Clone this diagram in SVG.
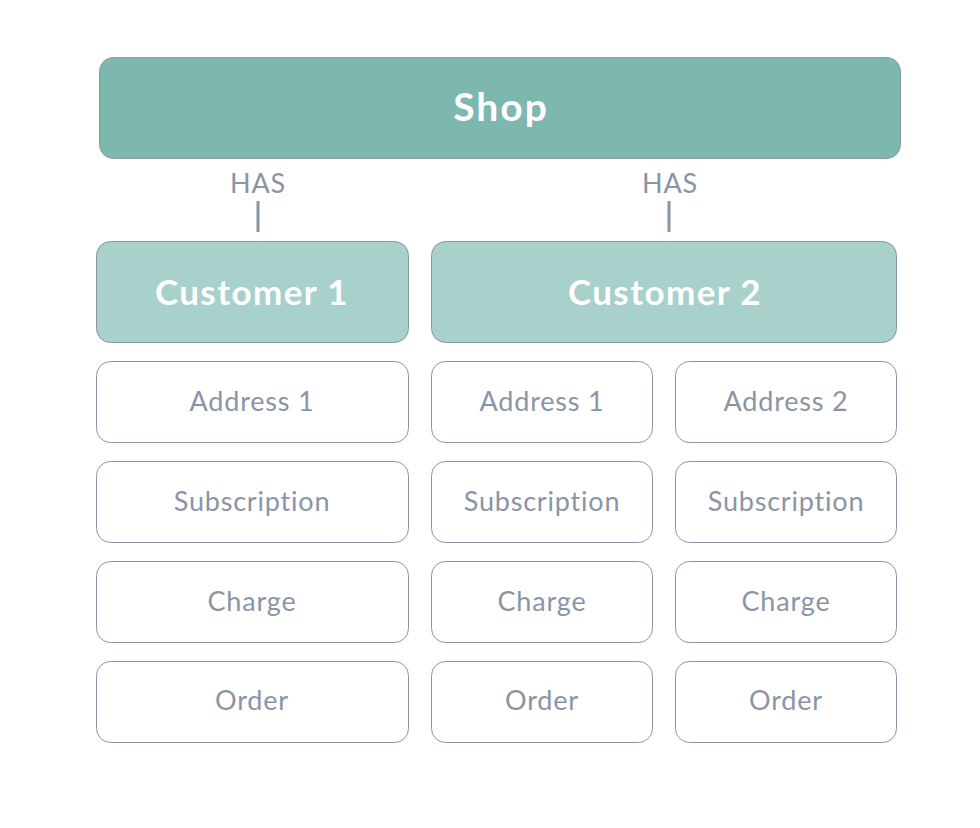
<svg xmlns="http://www.w3.org/2000/svg" width="980" height="828" viewBox="0 0 980 828">
<style>
.shop{fill:#7db8ae;stroke:#8a95a5;stroke-width:1}
.cust{fill:#a8d1cb;stroke:#8a95a5;stroke-width:1}
.box{fill:#ffffff;stroke:#8a95a5;stroke-width:1}
.hd{font-family:Lato,"Open Sans",sans-serif;font-weight:bold;fill:#ffffff;text-anchor:middle;dominant-baseline:central}
.lb{font-family:Lato,"Open Sans",sans-serif;fill:#8a94a6;font-size:27px;letter-spacing:0.8px;text-anchor:middle;dominant-baseline:central}
.con{stroke:#8a95a5;stroke-width:3;fill:none}
</style>
<rect width="980" height="828" fill="#ffffff"/>
<g id="shop"><rect class="shop" x="99.5" y="57.5" width="801" height="101" rx="14"/><text class="hd" x="501" y="106" font-size="39" letter-spacing="2">Shop</text></g>
<g id="connectors">
<line class="con" x1="258" y1="201" x2="258" y2="232"/>
<line class="con" x1="669" y1="201" x2="669" y2="232"/>
<text class="lb" x="258" y="182" font-size="24" letter-spacing="1">HAS</text>
<text class="lb" x="670" y="182" font-size="24" letter-spacing="1">HAS</text>
</g>
<g id="customer1"><rect class="cust" x="96.5" y="241.5" width="312" height="101" rx="14"/><text class="hd" x="252" y="291" font-size="35" letter-spacing="1.4">Customer 1</text></g>
<g id="customer2"><rect class="cust" x="431.5" y="241.5" width="465" height="101" rx="14"/><text class="hd" x="665" y="291" font-size="35" letter-spacing="1.4">Customer 2</text></g>
<g id="c1-address1"><rect class="box" x="96.5" y="361.5" width="312" height="81" rx="14"/><text class="lb" x="252" y="400">Address 1</text></g>
<g id="c1-subscription"><rect class="box" x="96.5" y="461.5" width="312" height="81" rx="14"/><text class="lb" x="252" y="500">Subscription</text></g>
<g id="c1-charge"><rect class="box" x="96.5" y="561.5" width="312" height="81" rx="14"/><text class="lb" x="252" y="600">Charge</text></g>
<g id="c1-order"><rect class="box" x="96.5" y="661.5" width="312" height="81" rx="14"/><text class="lb" x="252" y="699">Order</text></g>
<g id="c2-address1"><rect class="box" x="431.5" y="361.5" width="221" height="81" rx="14"/><text class="lb" x="542" y="400">Address 1</text></g>
<g id="c2-subscription1"><rect class="box" x="431.5" y="461.5" width="221" height="81" rx="14"/><text class="lb" x="542" y="500">Subscription</text></g>
<g id="c2-charge1"><rect class="box" x="431.5" y="561.5" width="221" height="81" rx="14"/><text class="lb" x="542" y="600">Charge</text></g>
<g id="c2-order1"><rect class="box" x="431.5" y="661.5" width="221" height="81" rx="14"/><text class="lb" x="542" y="699">Order</text></g>
<g id="c2-address2"><rect class="box" x="675.5" y="361.5" width="221" height="81" rx="14"/><text class="lb" x="786" y="400">Address 2</text></g>
<g id="c2-subscription2"><rect class="box" x="675.5" y="461.5" width="221" height="81" rx="14"/><text class="lb" x="786" y="500">Subscription</text></g>
<g id="c2-charge2"><rect class="box" x="675.5" y="561.5" width="221" height="81" rx="14"/><text class="lb" x="786" y="600">Charge</text></g>
<g id="c2-order2"><rect class="box" x="675.5" y="661.5" width="221" height="81" rx="14"/><text class="lb" x="786" y="699">Order</text></g>
</svg>
